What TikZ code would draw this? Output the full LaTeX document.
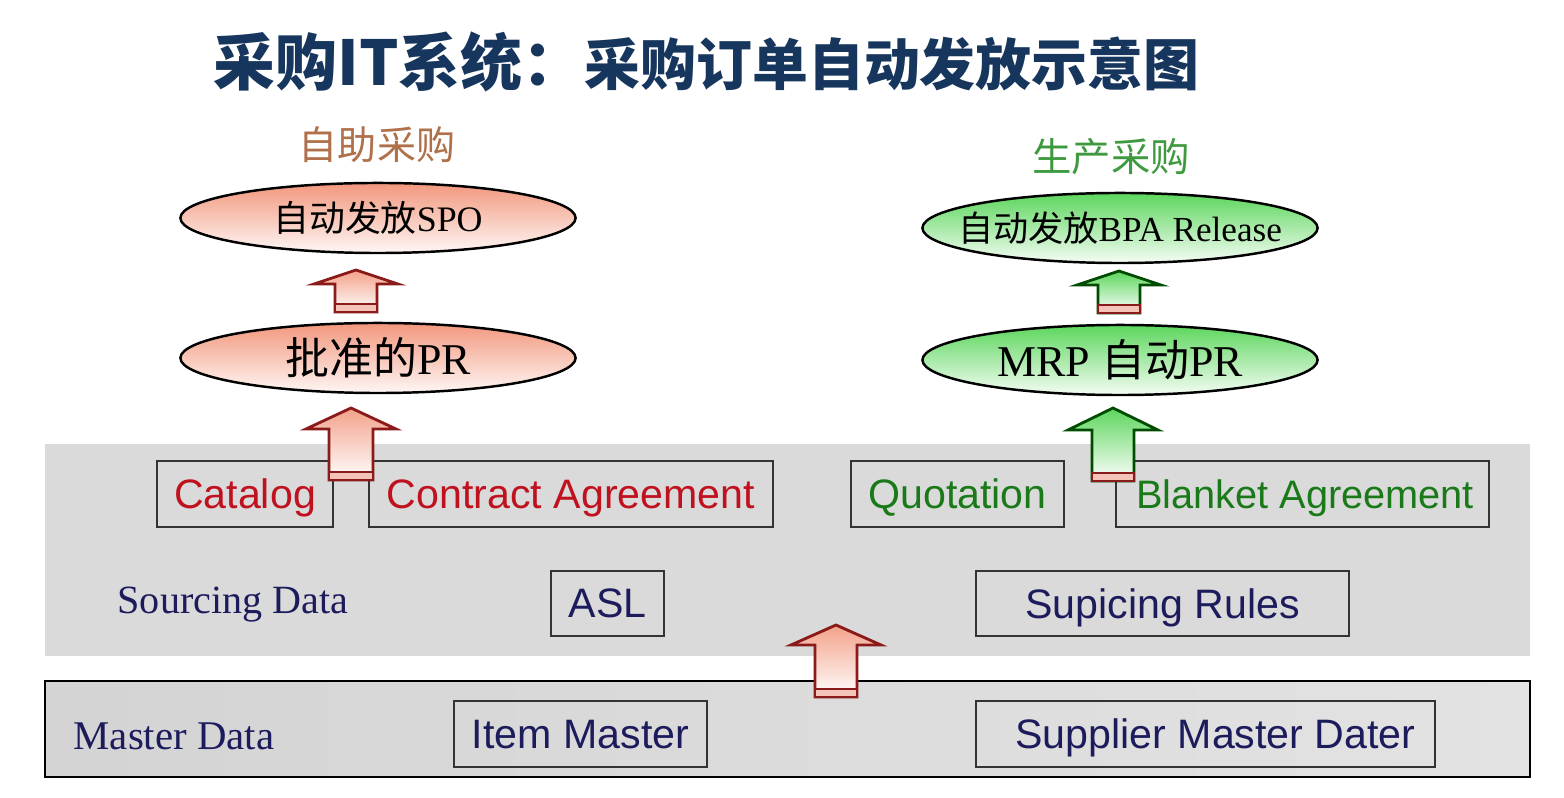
\documentclass[tikz,border=0pt]{standalone}
\usepackage{fontspec}
\setmainfont{Liberation Serif}
\setsansfont{Liberation Sans}
\newfontfamily\cjk{Noto Sans CJK SC}
\usepackage{tikz}
\usetikzlibrary{positioning,shapes.geometric}

\definecolor{titlenavy}{HTML}{17365D}
\definecolor{textnavy}{HTML}{1C1C5C}
\definecolor{labelbrown}{HTML}{B0704A}
\definecolor{labelgreen}{HTML}{3F9A3F}
\definecolor{salmon}{HTML}{F2977D}
\definecolor{lightgreen}{HTML}{5CD65C}
\definecolor{redtext}{HTML}{C0111F}
\definecolor{greentext}{HTML}{1A7A1A}
\definecolor{arrowred}{HTML}{8B1A1A}
\definecolor{bandpink}{HTML}{F6C3B8}
\definecolor{bandgray}{HTML}{DADADA}

\tikzset{
  ellred/.style={ellipse, draw=black, line width=0.7pt, inner sep=0pt,
    top color=salmon, bottom color=salmon!8, minimum width=3.95cm, minimum height=0.7cm},
  ellgreen/.style={ellred, top color=lightgreen, bottom color=lightgreen!6},
  databox/.style={draw=black!80, line width=0.6pt, fill=bandgray, inner sep=0pt, text depth=0pt,
    font=\sffamily\fontsize{11.7}{13}\selectfont},
  redarrow/.style={draw=arrowred, line width=0.8pt, top color=salmon!90, bottom color=white},
  greenarrow/.style={draw=black!70!green, line width=0.8pt, top color=lightgreen, bottom color=white}
}

% style, x, top, head base, bottom, head half width, shaft half width
\newcommand{\blockup}[7]{%
  \path[#1] (#2,#3) -- ({#2+#6},#4) -- ({#2+#7},#4) -- ({#2+#7},#5)
    -- ({#2-#7},#5) -- ({#2-#7},#4) -- ({#2-#6},#4) -- cycle;
  \path[draw=arrowred, line width=0.8pt, fill=bandpink] ({#2-#7},{#5-8}) rectangle ({#2+#7},#5);
}

\begin{document}
\begin{tikzpicture}[x=0.01cm, y=-0.01cm]
\useasboundingbox[fill=white] (0,0) rectangle (1564,798);

% title
\node[text=titlenavy, anchor=west, inner sep=0pt] (title) at (213,62)
  {\cjk\bfseries\fontsize{17.6}{19}\selectfont 采购IT系统：\fontsize{15.9}{18}\selectfont 采购订单自动发放示意图};

% sourcing band
\fill[bandgray] (45,444) rectangle (1530,656);
% master band
\path[draw=black, line width=0.6pt, left color=black!17, right color=black!11] (45,681) rectangle (1530,777);

% purchase side labels
\node[text=labelbrown, font=\cjk\fontsize{11.1}{13}\selectfont] (self) at (377,145) {自助采购};
\node[text=labelgreen, font=\cjk\fontsize{11.2}{13}\selectfont] (prod) at (1111,157) {生产采购};

% ellipses
\node[ellred, font=\fontsize{10.2}{12}\selectfont] (spo) at (378,218) {\makebox[0pt]{{\cjk 自动发放}SPO}};
\node[ellred, font=\fontsize{12.5}{14}\selectfont] (pr) at (378,358) {\makebox[0pt]{{\cjk 批准的}PR}};
\node[ellgreen, font=\fontsize{10}{12}\selectfont] (bpa) at (1120,228) {\makebox[0pt]{{\cjk 自动发放}BPA Release}};
\node[ellgreen, font=\fontsize{12.5}{14}\selectfont] (mrp) at (1120,360) {\makebox[0pt]{MRP {\cjk 自动}PR}};

% sourcing data
\node[text=textnavy, anchor=west, inner sep=0pt, font=\fontsize{11.4}{13}\selectfont] (sourcing) at (117,605) {Sourcing Data};
\node[databox, text=redtext, minimum width=1.76cm, minimum height=0.66cm] (catalog) at (245,494) {Catalog};
\node[databox, text=redtext, minimum width=4.04cm, minimum height=0.66cm] (contract) at (571,494) {Contract Agreement};
\node[databox, text=greentext, minimum width=2.13cm, minimum height=0.66cm] (quote) at (957.5,494) {Quotation};
\node[databox, text=greentext, minimum width=3.73cm, minimum height=0.66cm, font=\sffamily\fontsize{11.3}{13}\selectfont] (blanket) at (1302.5,494) {\hspace{0.05cm}Blanket Agreement};
\node[databox, text=textnavy, minimum width=1.13cm, minimum height=0.65cm] (asl) at (607.5,603.5) {ASL};
\node[databox, text=textnavy, minimum width=3.73cm, minimum height=0.65cm] (rules) at (1162.5,603.5) {Supicing Rules};

% master data
\node[text=textnavy, anchor=west, inner sep=0pt, font=\fontsize{11.6}{13}\selectfont] (master) at (73,736) {Master Data};
\node[databox, fill=none, text=textnavy, minimum width=2.53cm, minimum height=0.66cm] (item) at (580.5,734) {Item Master};
\node[databox, fill=none, text=textnavy, minimum width=4.59cm, minimum height=0.66cm] (supplier) at (1205.5,734) {\hspace{0.2cm}Supplier Master Dater};

% block arrows
\blockup{redarrow}{356}{270}{284}{312}{42}{21}
\blockup{redarrow}{351}{408}{429}{480}{45}{22}
\blockup{greenarrow}{1119}{271}{285}{313}{42}{21}
\blockup{greenarrow}{1113}{408}{430}{481}{45}{21}
\blockup{redarrow}{836}{625}{645}{697}{45}{21}
\end{tikzpicture}
\end{document}
